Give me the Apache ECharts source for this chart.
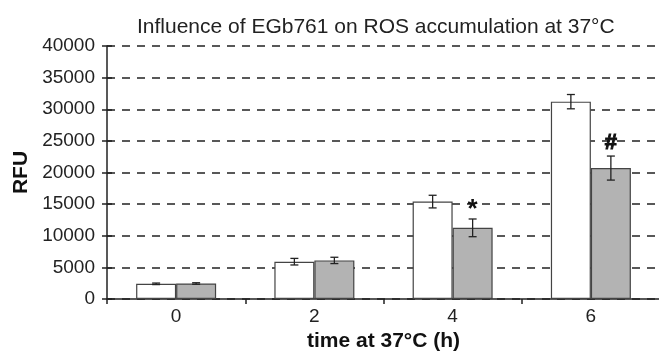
<!DOCTYPE html>
<html>
<head>
<meta charset="utf-8">
<script src="https://cdn.jsdelivr.net/npm/echarts@6/dist/echarts.min.js"></script>
<style>
  html, body { margin: 0; padding: 0; background: #fff; }
  #chart { width: 659px; height: 351px; }
</style>
</head>
<body>
<div id="chart"></div>
<script>
// time points (h) and RFU readings
const categories = ["0", "2", "4", "6"];
const controlValues = [2400, 5900, 15400, 31200];
const controlErrors = [120, 520, 1000, 1130];
const egbValues = [2450, 6100, 11250, 20700];
const egbErrors = [120, 500, 1400, 1900];
const egbMarks = ["", "", "*", "#"];
const yTicks = [0, 5000, 10000, 15000, 20000, 25000, 30000, 35000, 40000];

const BAR_W = 40;
const FONT = "'Liberation Sans', Arial, sans-serif";

function errorSeries(name, values, errors, shift, marks) {
  return {
    name: name,
    type: "custom",
    z: 5,
    data: values.map((v, i) => [i, v, errors[i], marks ? marks[i] : ""]),
    renderItem: (params, api) => {
      const idx = api.value(0);
      const top = api.coord([idx, api.value(1) + api.value(2)]);
      const bottom = api.coord([idx, api.value(1) - api.value(2)]);
      const x = top[0] + shift;
      const cap = 4;
      const style = { stroke: "#222", lineWidth: 1.3 };
      const children = [
        { type: "line", shape: { x1: x, y1: top[1], x2: x, y2: bottom[1] }, style },
        { type: "line", shape: { x1: x - cap, y1: top[1], x2: x + cap, y2: top[1] }, style },
        { type: "line", shape: { x1: x - cap, y1: bottom[1], x2: x + cap, y2: bottom[1] }, style }
      ];
      const mark = api.value(3);
      if (mark) {
        children.push({
          type: "text",
          style: {
            text: mark,
            x: x,
            y: mark === "*" ? top[1] + 4 : top[1] - 2,
            align: "center",
            verticalAlign: "bottom",
            font: "bold " + (mark === "*" ? 26 : 22) + "px " + FONT,
            fill: "#111",
            stroke: "#111",
            lineWidth: mark === "#" ? 1 : 0
          }
        });
      }
      return { type: "group", children };
    }
  };
}

const chart = echarts.init(document.getElementById("chart"));
chart.setOption({
  animation: false,
  textStyle: { fontFamily: FONT },
  title: {
    text: "Influence of EGb761 on ROS accumulation at 37°C",
    left: 132,
    top: 12,
    textStyle: { fontSize: 21, fontWeight: "normal", color: "#222", fontFamily: FONT }
  },
  grid: { left: 107, right: -1, top: 46, bottom: 52, containLabel: false, outerBoundsMode: "none" },
  xAxis: {
    type: "category",
    data: categories,
    name: "time at 37°C (h)",
    nameLocation: "middle",
    nameGap: 30,
    nameTextStyle: { fontSize: 21, fontWeight: "bold", color: "#111", fontFamily: FONT },
    axisLine: { lineStyle: { color: "#222", width: 1.5 } },
    axisTick: { show: true, length: 5, lineStyle: { color: "#222", width: 1.5 } },
    axisLabel: { fontSize: 19, color: "#222", margin: 8, fontFamily: FONT },
    splitLine: { show: false }
  },
  yAxis: [
    {
      type: "value",
      min: yTicks[0],
      max: yTicks[yTicks.length - 1],
      interval: 5000,
      name: "RFU",
      nameLocation: "middle",
      nameGap: 75,
      nameTextStyle: { fontSize: 21, fontWeight: "bold", color: "#111", fontFamily: FONT },
      axisLine: { show: true, lineStyle: { color: "#222", width: 1.5 } },
      axisTick: { show: true, length: 5, lineStyle: { color: "#222", width: 1.5 } },
      axisLabel: { fontSize: 19, color: "#222", margin: 12, fontFamily: FONT, formatter: (v) => String(v) },
      splitLine: { show: true, lineStyle: { color: "#222", type: [8, 7], width: 1.5 } }
    },
    {
      type: "value",
      position: "left",
      min: yTicks[0],
      max: yTicks[yTicks.length - 1],
      interval: 5000,
      axisLine: { show: false },
      axisTick: { show: true, inside: true, length: 5, lineStyle: { color: "#222", width: 1.5 } },
      axisLabel: { show: false },
      splitLine: { show: false }
    }
  ],
  series: [
    {
      name: "control",
      type: "bar",
      data: controlValues,
      barWidth: BAR_W,
      barGap: "0%",
      z: 3,
      itemStyle: { color: "#ffffff", borderColor: "#444", borderWidth: 1.2 }
    },
    {
      name: "EGb761",
      type: "bar",
      data: egbValues,
      barWidth: BAR_W,
      barGap: "0%",
      z: 3,
      itemStyle: { color: "#b3b3b3", borderColor: "#444", borderWidth: 1.2 }
    },
    errorSeries("control err", controlValues, controlErrors, -BAR_W / 2, null),
    errorSeries("EGb761 err", egbValues, egbErrors, BAR_W / 2, egbMarks)
  ]
});
</script>
</body>
</html>
